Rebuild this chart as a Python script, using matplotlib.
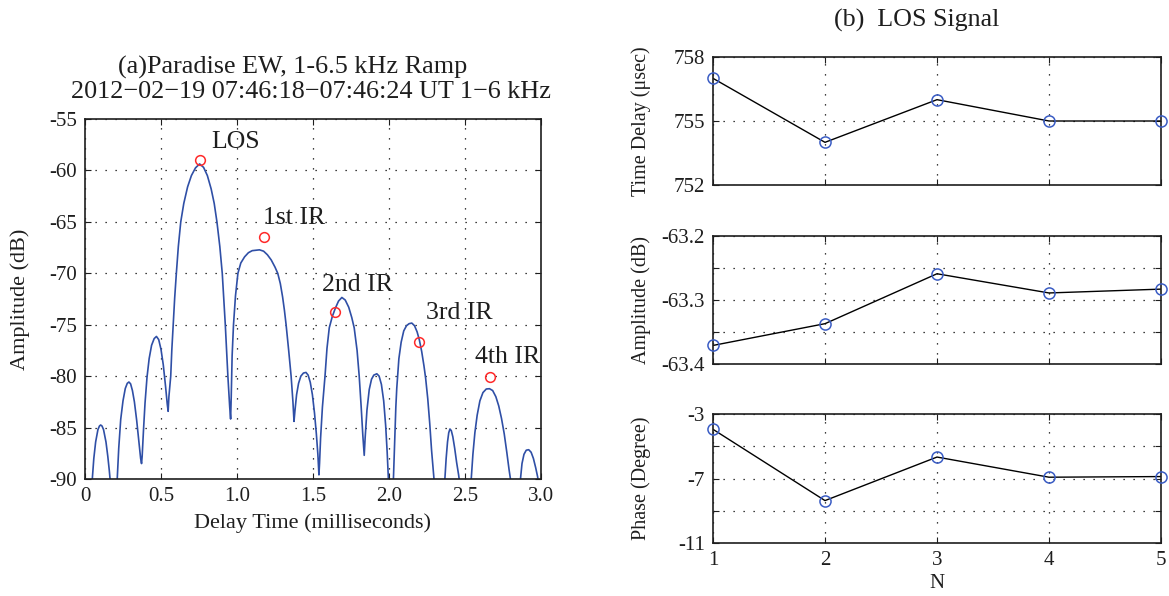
import matplotlib
matplotlib.use("Agg")
import matplotlib.pyplot as plt

plt.rcParams["font.family"] = ["Liberation Serif", "DejaVu Serif"]
plt.rcParams["axes.unicode_minus"] = False

# --- (a) correlacao: pontos, um lobulo por linha ---
delay_ms = [
    0.040, 0.048, 0.058, 0.070, 0.085, 0.095, 0.103, 0.112, 0.122, 0.138, 0.150, 0.160, 0.168, 0.180, 0.190,
    0.200, 0.206, 0.212, 0.222, 0.235, 0.250, 0.265, 0.278, 0.289, 0.300, 0.312, 0.325, 0.340, 0.355, 0.366, 0.372,
    0.376, 0.385, 0.395, 0.408, 0.422, 0.438, 0.455, 0.470, 0.485, 0.500, 0.515, 0.530, 0.541, 0.547,
    0.552, 0.558, 0.564, 0.571, 0.580, 0.590, 0.601, 0.614, 0.630, 0.650, 0.675, 0.700, 0.727, 0.754,
    0.780, 0.805, 0.830, 0.850, 0.868, 0.887, 0.903, 0.923, 0.940, 0.952, 0.958,
    0.962, 0.968, 0.977, 0.990, 1.006, 1.025, 1.050, 1.075, 1.100, 1.148, 1.175, 1.200, 1.225, 1.250,
    1.268, 1.285, 1.300, 1.312, 1.323, 1.340, 1.356, 1.368, 1.375,
    1.381, 1.392, 1.405, 1.420, 1.437, 1.454, 1.468, 1.482, 1.496, 1.510, 1.522, 1.532, 1.539,
    1.543, 1.550, 1.562, 1.579, 1.592, 1.607, 1.627, 1.647, 1.668, 1.690, 1.712, 1.735, 1.755, 1.771,
    1.790, 1.804, 1.817, 1.828, 1.837,
    1.843, 1.855, 1.870, 1.885, 1.900, 1.920, 1.935, 1.950, 1.965, 1.978, 1.988, 1.996, 2.005, 2.012,
    2.020, 2.029, 2.037, 2.045, 2.051, 2.065, 2.080, 2.097, 2.115, 2.132, 2.150, 2.168, 2.185, 2.200,
    2.215, 2.230, 2.241, 2.255, 2.268, 2.280, 2.290, 2.296, 2.310, 2.330,
    2.355, 2.368, 2.376, 2.385, 2.393, 2.401, 2.410, 2.420, 2.432, 2.445, 2.458, 2.467, 2.480, 2.505,
    2.530, 2.541, 2.552, 2.565, 2.580, 2.598, 2.618, 2.640, 2.661, 2.682, 2.703, 2.722, 2.740, 2.758,
    2.775, 2.790, 2.799, 2.815, 2.840,
    2.855, 2.865, 2.875, 2.888, 2.903, 2.919, 2.935, 2.950, 2.965, 2.978, 2.990, 3.000,
]
amp_db = [
    -92.0, -90.0, -88.0, -86.4, -85.2, -84.85, -84.75, -84.85, -85.2, -86.4, -87.8, -89.2, -90.5, -93.0, -96.0,
    -95.0, -92.0, -90.0, -87.0, -84.2, -82.4, -81.2, -80.7, -80.57, -80.75, -81.4, -82.5, -84.3, -86.4, -88.0, -88.5,
    -87.8, -85.2, -82.6, -80.1, -78.3, -77.0, -76.35, -76.14, -76.45, -77.4, -78.9, -81.0, -82.7, -83.42,
    -82.0, -81.0, -80.0, -77.5, -75.0, -72.4, -70.0, -67.4, -65.0, -63.2, -61.6, -60.5, -59.75, -59.37,
    -59.7, -60.5, -61.8, -63.2, -65.0, -67.4, -70.0, -75.0, -80.0, -83.0, -84.17,
    -82.0, -78.0, -75.0, -72.2, -70.0, -69.0, -68.4, -68.0, -67.8, -67.72, -67.85, -68.2, -68.7, -69.4,
    -70.0, -71.0, -72.3, -73.6, -75.0, -77.5, -80.0, -82.5, -84.4,
    -83.4, -81.8, -80.7, -80.0, -79.7, -79.64, -79.9, -80.6, -81.8, -83.6, -85.6, -87.6, -89.6,
    -88.5, -86.0, -83.0, -80.0, -77.3, -75.3, -74.2, -73.4, -72.7, -72.35, -72.6, -73.3, -74.3, -75.3,
    -77.5, -80.0, -83.0, -85.8, -87.7,
    -86.0, -83.3, -81.3, -80.3, -79.9, -79.77, -80.0, -80.8, -82.4, -84.8, -87.4, -90.0, -94.0, -96.0,
    -94.0, -90.0, -86.3, -83.0, -81.2, -78.3, -76.7, -75.6, -75.1, -74.9, -74.84, -75.1, -75.7, -76.5,
    -77.6, -79.0, -80.2, -82.2, -84.6, -87.2, -89.0, -90.0, -94.0, -97.0,
    -93.0, -90.0, -88.0, -86.4, -85.5, -85.14, -85.3, -85.9, -87.0, -88.4, -89.6, -90.6, -93.0, -97.0,
    -93.0, -90.0, -87.6, -85.5, -83.8, -82.4, -81.6, -81.25, -81.22, -81.4, -82.0, -82.9, -84.1, -85.6,
    -87.4, -89.1, -90.0, -93.0, -97.0,
    -93.0, -90.0, -88.5, -87.6, -87.2, -87.15, -87.4, -88.0, -88.9, -89.8, -91.0, -92.0,
]
assert len(delay_ms) == len(amp_db)

# picos marcados (circulos vermelhos) e rotulos
pico_ms = [0.754, 1.179, 1.647, 2.200, 2.666]
pico_db = [-59.01, -66.46, -73.78, -76.69, -80.09]
rotulos = ["LOS", "1st IR", "2nd IR", "3rd IR", "4th IR"]
rotulo_ms = [0.831, 1.174, 1.557, 2.246, 2.569]
rotulo_db = [-57.2, -64.6, -71.1, -73.9, -78.1]

# --- (b) sinal LOS ---
n = [1, 2, 3, 4, 5]
atraso_us = [757.0, 754.0, 756.0, 755.0, 755.0]
amplitude_db = [-63.371, -63.337, -63.259, -63.289, -63.283]
fase_graus = [-3.95, -8.37, -5.67, -6.92, -6.88]

AZUL_CURVA = "#2f4fa6"
AZUL_MARC = "#3a5cc4"
VERMELHO = "#ff2a2a"
TXT = "#1e1e1e"
GRADE = dict(color="black", linestyle=(0, (1, 7)), linewidth=0.9)

W, H = 1169, 596
fig = plt.figure(figsize=(W / 100, H / 100), dpi=100)


def caixa(x0, y0, x1, y1):
    # converte pixels (origem no topo) em coordenadas da figura
    return [x0 / W, 1 - y1 / H, (x1 - x0) / W, (y1 - y0) / H]


def estilo(ax, tam=15):
    ax.tick_params(direction="in", top=True, right=True, length=4,
                   width=0.8, labelsize=tam, colors=TXT, pad=6)
    for s in ax.spines.values():
        s.set_linewidth(1.2)
        s.set_color(TXT)
    ax.grid(True, **GRADE)


# === painel (a) ===
ax = fig.add_axes(caixa(85, 119, 541, 479))
ax.plot(delay_ms, amp_db, color=AZUL_CURVA, linewidth=1.2)
ax.plot(pico_ms, pico_db, "o", mfc="none", mec=VERMELHO, ms=7, mew=1.1)
for r, xr, yr in zip(rotulos, rotulo_ms, rotulo_db):
    ax.text(xr, yr, r, fontsize=18.5, va="center", ha="left", color=TXT)
ax.set_xlim(0, 3.0)
ax.set_ylim(-90, -55)
ax.set_xticks([0, 0.5, 1.0, 1.5, 2.0, 2.5, 3.0])
ax.set_xticklabels(["0", "0.5", "1.0", "1.5", "2.0", "2.5", "3.0"])
yt = [-90, -85, -80, -75, -70, -65, -60, -55]
ax.set_yticks(yt)
ax.set_yticklabels([str(v) for v in yt])
estilo(ax)
ax.set_xlabel("Delay Time (milliseconds)", fontsize=16, color=TXT, labelpad=5)
ax.set_ylabel("Amplitude (dB)", fontsize=16, color=TXT)
ax.yaxis.set_label_coords(-0.12, 0.5)
fig.text(293 / W, 1 - 67 / H, "(a)Paradise EW, 1-6.5 kHz Ramp",
         fontsize=18.8, ha="center", va="center", color=TXT)
fig.text(311 / W, 1 - 92 / H,
         "2012\u221202\u221219 07:46:18\u221207:46:24 UT 1\u22126 kHz",
         fontsize=18.8, ha="center", va="center", color=TXT)

# === painel (b) ===
paineis = [
    (57, 185, atraso_us, (752, 758), [752, 755, 758], ["752", "755", "758"],
     "Time Delay (\u03bcsec)"),
    (236, 364, amplitude_db, (-63.4, -63.2),
     [-63.4, -63.35, -63.3, -63.25, -63.2], ["-63.4", "", "-63.3", "", "-63.2"],
     "Amplitude (dB)"),
    (414, 543, fase_graus, (-11, -3), [-11, -9, -7, -5, -3],
     ["-11", "", "-7", "", "-3"], "Phase (Degree)"),
]
for i, (t, b, vals, lim, ticks, labels, ylab) in enumerate(paineis):
    axb = fig.add_axes(caixa(713, t, 1161, b))
    axb.plot(n, vals, color="black", linewidth=1.0)
    axb.plot(n, vals, "o", mfc="none", mec=AZUL_MARC, ms=8, mew=1.1,
             clip_on=False, zorder=5)
    axb.set_xlim(1, 5)
    axb.set_ylim(*lim)
    axb.set_xticks(n)
    axb.set_yticks(ticks)
    axb.set_yticklabels(labels)
    estilo(axb)
    if i < 2:
        axb.set_xticklabels([])
    else:
        axb.set_xticklabels([str(v) for v in n])
        axb.set_xlabel("N", fontsize=15, color=TXT, labelpad=3)
    axb.set_ylabel(ylab, fontsize=14.5, color=TXT)
    axb.yaxis.set_label_coords(-0.138, 0.5)

fig.text(917 / W, 1 - 20 / H, "(b)  LOS Signal", fontsize=18.7,
         ha="center", va="center", color=TXT)

fig.savefig("out.png", dpi=100)
